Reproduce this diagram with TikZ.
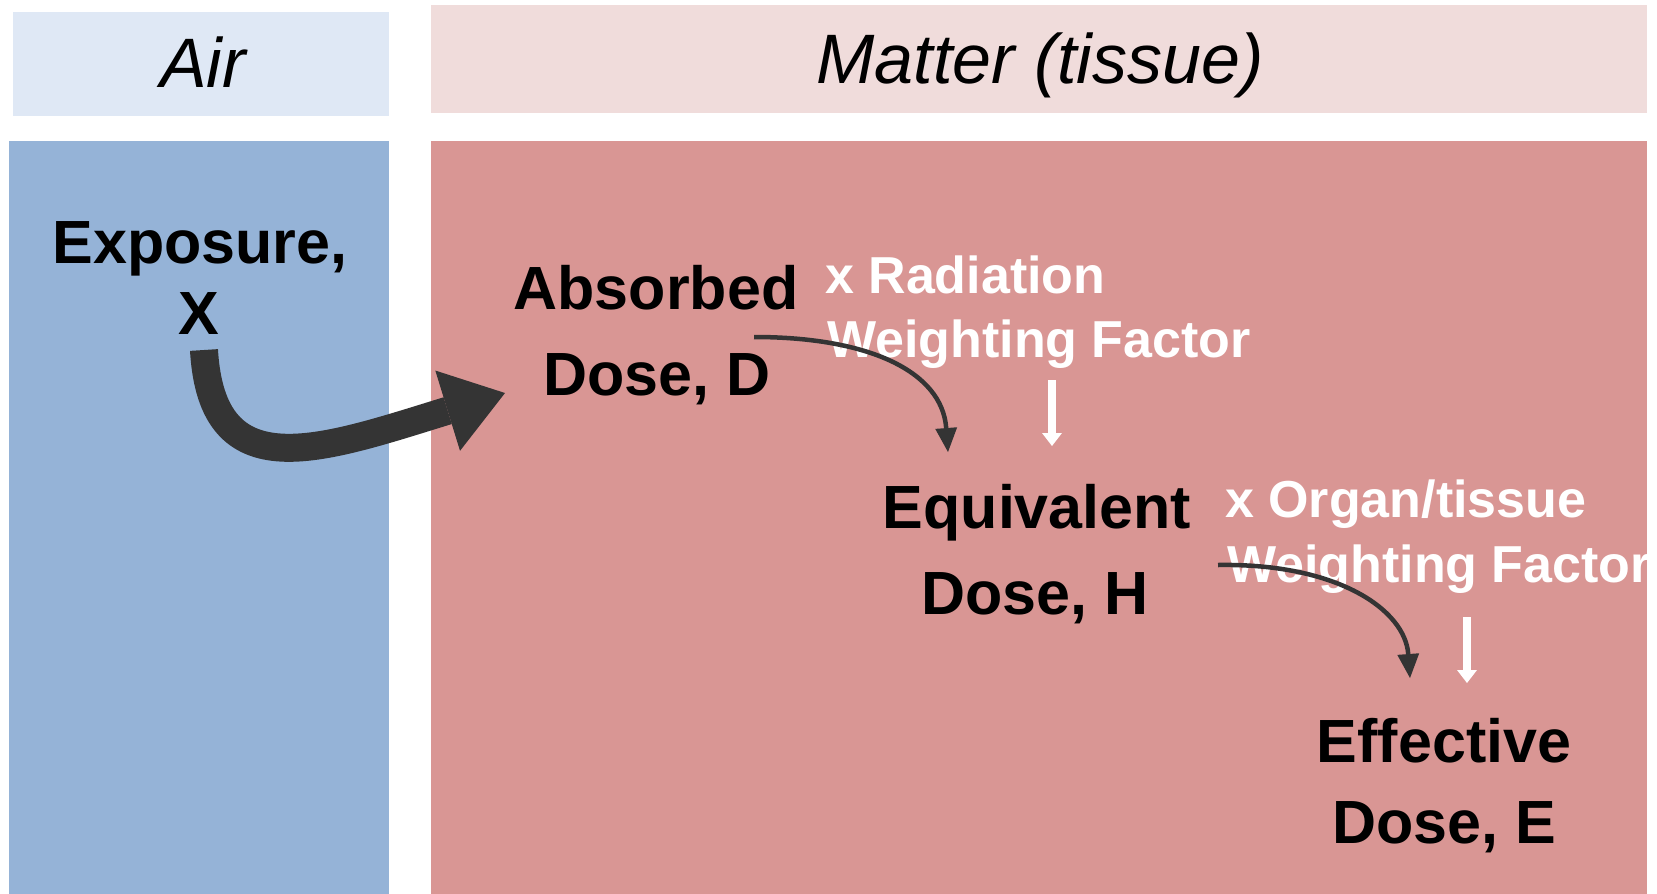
\documentclass[tikz,border=0pt]{standalone}
\usepackage{fontspec}
\setmainfont{Liberation Sans}
\usetikzlibrary{arrows.meta}
\definecolor{airlight}{HTML}{DFE8F5}
\definecolor{matterlight}{HTML}{F0DCDB}
\definecolor{airblue}{HTML}{95B3D7}
\definecolor{matterred}{HTML}{D99694}
\definecolor{arrowgray}{HTML}{343434}
\begin{document}
\begin{tikzpicture}[x=1pt,y=-1pt,
  dosetext/.style={font=\fontsize{61}{61}\selectfont\bfseries, text=black, inner sep=0pt, anchor=base},
  factortext/.style={font=\fontsize{52}{52}\selectfont\bfseries, text=white, inner sep=0pt, anchor=base west},
  headtext/.style={font=\fontsize{70}{70}\selectfont\itshape, text=black, inner sep=0pt, anchor=base},
  thinarrow/.style={draw=arrowgray, line width=4.5pt, -{Triangle[length=24pt,width=22pt,line width=0pt]}},
  whitearrow/.style={draw=white, line width=8pt, -{Triangle[length=13pt,width=20pt,line width=0pt]}},
  bigarrow/.style={draw=arrowgray, line width=28pt, -{Triangle[length=60pt,width=84pt,line width=0pt]}}]
\useasboundingbox (0,0) rectangle (1657,894);
% panels
\fill[airlight] (13,12) rectangle (389,116);
\fill[matterlight] (431,5) rectangle (1647,113);
\fill[airblue] (9,141) rectangle (389,894);
\fill[matterred] (431,141) rectangle (1647,894);
% headings
\node[headtext] (air) at (203,87) {Air};
\node[headtext] (matter) at (1040,83) {Matter (tissue)};
% dose texts
\node[dosetext] (exp1) at (200,263) {Exposure,};
\node[dosetext] (exp2) at (199,334) {X};
\node[dosetext] (abs1) at (656,309) {Absorbed};
\node[dosetext] (abs2) at (657,395) {Dose, D};
\node[dosetext] (eq1) at (1037,528) {Equivalent};
\node[dosetext] (eq2) at (1035,614) {Dose, H};
\node[dosetext] (eff1) at (1444,762) {Effective};
\node[dosetext] (eff2) at (1444,843) {Dose, E};
% factor texts
\begin{scope}
\clip (431,141) rectangle (1647,894);
\node[factortext] (rad1) at (825,293) {x Radiation};
\node[factortext] (rad2) at (827,357) {Weighting Factor};
\node[factortext] (org1) at (1225,517) {x Organ/tissue};
\node[factortext] (org2) at (1227,582) {Weighting Factor};
\end{scope}
% connector coordinates
\coordinate (bigstart) at (204,350);
\coordinate (bigtip) at (505,393);
\coordinate (c1start) at (754,337);
\coordinate (c1tip) at (948,452);
\coordinate (c2start) at (1218,565);
\coordinate (c2tip) at (1410,678);
\coordinate (w1top) at (1052,380);
\coordinate (w1tip) at (1052,446);
\coordinate (w2top) at (1467,617);
\coordinate (w2tip) at (1467,683);
% arrows
\draw[bigarrow] (bigstart) .. controls (212,490) and (320,450) .. (bigtip);
\draw[thinarrow] (c1start) .. controls (870,337) and (942,372) .. (c1tip);
\draw[thinarrow] (c2start) .. controls (1338,563) and (1405,610) .. (c2tip);
\draw[whitearrow] (w1top) -- (w1tip);
\draw[whitearrow] (w2top) -- (w2tip);
\end{tikzpicture}
\end{document}
